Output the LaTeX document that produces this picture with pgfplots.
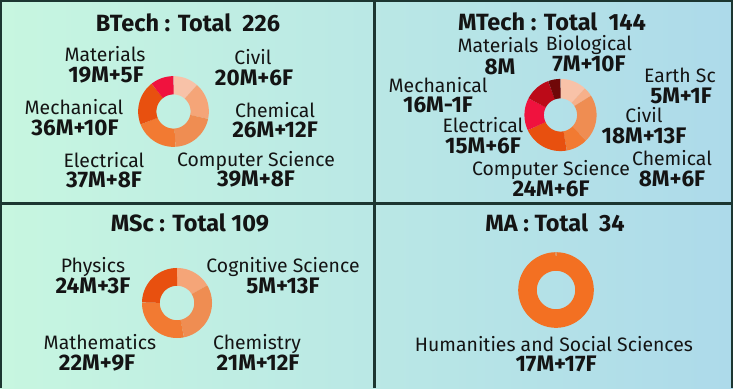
\documentclass[border=0pt]{standalone}
\usepackage{pgfplots}
\pgfplotsset{compat=1.18}
\usepackage{fontspec}
\setmainfont{Fira Sans}

\definecolor{bgL}{HTML}{C7F6E0}
\definecolor{bgR}{HTML}{ADDAEA}
\definecolor{frame}{HTML}{1C3631}
\definecolor{txt}{HTML}{141414}
% slice colours
\definecolor{pk1}{HTML}{F8C2A8}
\definecolor{pk2}{HTML}{F5A578}
\definecolor{or1}{HTML}{EF8D52}
\definecolor{or2}{HTML}{F27A32}
\definecolor{or3}{HTML}{E8500F}
\definecolor{crim}{HTML}{F0123E}
\definecolor{dred}{HTML}{BC0A18}
\definecolor{maroon}{HTML}{700808}
\definecolor{pk3}{HTML}{F7B08A}
\definecolor{maor}{HTML}{F37022}

% ring helpers: total, mid radius, ring width (pt)
\newcommand\startring[3]{\gdef\rtotal{#1}\gdef\rcum{0}\gdef\rrad{#2}\gdef\rw{#3}}
% slice: count, colour (clockwise from 12 o'clock)
\newcommand\slice[2]{%
  \pgfmathsetmacro\sa{90-\rcum/\rtotal*360}%
  \pgfmathsetmacro\newcum{\rcum+#1}%
  \pgfmathsetmacro\sb{90-\newcum/\rtotal*360}%
  \xdef\rcum{\newcum}%
  \edef\doslice{\noexpand\addplot[draw=#2, line width=\rw pt, domain=\sb:\sa, samples=72] ({\rrad*cos(x)},{\rrad*sin(x)});}%
  \doslice}

\pgfplotsset{donut/.style={anchor=center, hide axis, scale only axis, width=80pt, height=80pt,
  xmin=-40, xmax=40, ymin=-40, ymax=40, clip=false}}

\tikzset{
  nm/.style={anchor=base, text=txt, inner sep=0pt, font=\fontsize{19.4}{21}\selectfont},
  num/.style={anchor=base, text=txt, inner sep=0pt, font=\fontsize{22.5}{24}\selectfont\bfseries},
  ttl/.style={anchor=base, text=txt, inner sep=0pt, font=\fontsize{23.5}{26}\selectfont\bfseries}
}

\begin{document}
\begin{tikzpicture}[x=1pt,y=1pt]
\useasboundingbox (0,0) rectangle (733,388);
\shade[left color=bgL, right color=bgR] (0,0) rectangle (733,388);
\draw[frame, line width=3pt] (374,0) -- (374,388);
\draw[frame, line width=3pt] (0,184) -- (733,184);
\draw[frame, line width=2.5pt] (1,0) -- (1,387.5) -- (732,387.5) -- (732,0);

% ---------------- BTech ----------------
\begin{axis}[donut, at={(173.5pt,276.5pt)}]
\startring{226}{26.2}{18.3}
\slice{26}{pk1}  % Civil
\slice{38}{pk2}  % Chemical
\slice{47}{or1}  % Computer Science
\slice{45}{or2}  % Electrical
\slice{46}{or3}  % Mechanical
\slice{24}{crim} % Materials
\end{axis}
\node[ttl] at (188,356) {BTech : Total~~226};
\node[nm]  at (105,326.5) {Materials};
\node[num] at (106,305.5) {19M+5F};
\node[nm]  at (253,323.5) {Civil};
\node[num] at (254,302.5) {20M+6F};
\node[nm]  at (74,273.5)  {Mechanical};
\node[num] at (75,252.5)  {36M+10F};
\node[nm]  at (275,270.5) {Chemical};
\node[num] at (275,250.5) {26M+12F};
\node[nm]  at (104,220.5) {Electrical};
\node[num] at (104,200.5) {37M+8F};
\node[nm]  at (256,221.5) {Computer Science};
\node[num] at (256,201.5) {39M+8F};

% ---------------- MTech ----------------
\begin{axis}[donut, at={(560.5pt,273pt)}]
\startring{144}{26.3}{19.5}
\slice{17}{pk1}   % Biological
\slice{6}{pk3}    % Earth Sc
\slice{31}{or1}   % Civil
\slice{14}{or2}   % Chemical
\slice{30}{or3}   % Computer Science
\slice{21}{crim}  % Electrical
\slice{17}{dred}  % Mechanical
\slice{8}{maroon} % Materials
\end{axis}
\node[ttl] at (552,357) {MTech : Total~~144};
\node[nm]  at (498,335.5) {Materials};
\node[num] at (500,313.5) {8M};
\node[nm]  at (589,337) {Biological};
\node[num] at (589,316.5) {7M+10F};
\node[nm]  at (680,305.5) {Earth Sc};
\node[num] at (681,284.5) {5M+1F};
\node[nm]  at (438,295.5) {Mechanical};
\node[num] at (438,275.5) {16M-1F};
\node[nm]  at (644,265.5) {Civil};
\node[num] at (644,244.5) {18M+13F};
\node[nm]  at (483,255) {Electrical};
\node[num] at (483,234.5) {15M+6F};
\node[nm]  at (672,222) {Chemical};
\node[num] at (672,201.5) {8M+6F};
\node[nm]  at (551,212) {Computer Science};
\node[num] at (551,191.5) {24M+6F};

% ---------------- MSc ----------------
\begin{axis}[donut, at={(177pt,85pt)}]
\startring{109}{26.1}{17.8}
\slice{18}{pk2}  % Cognitive Science
\slice{33}{or1}  % Chemistry
\slice{31}{or2}  % Mathematics
\slice{27}{or3}  % Physics
\end{axis}
\node[ttl] at (190,156) {MSc : Total 109};
\node[nm]  at (93,115.5)  {Physics};
\node[num] at (93,94.5)   {24M+3F};
\node[nm]  at (283,115.5) {Cognitive Science};
\node[num] at (283,94.5)  {5M+13F};
\node[nm]  at (100,38.5)  {Mathematics};
\node[num] at (97,17.5)   {22M+9F};
\node[nm]  at (257,38.5)  {Chemistry};
\node[num] at (258,17.5)  {21M+12F};

% ---------------- MA ----------------
\begin{axis}[donut, at={(556pt,98pt)}]
\startring{34}{28.5}{18.6}
\slice{34}{maor} % Humanities and Social Sciences
\end{axis}
\node[ttl] at (555,156) {MA : Total~~34};
\node[nm]  at (554,37)  {Humanities and Social Sciences};
\node[num] at (556,16.5)  {17M+17F};
\end{tikzpicture}
\end{document}
